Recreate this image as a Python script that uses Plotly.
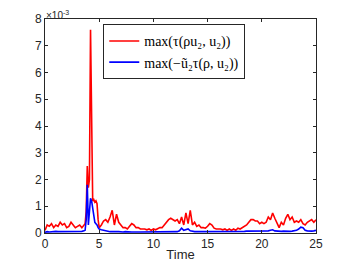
import numpy as np
import plotly.graph_objects as go

# time grid (pre-spike, spike, post-spike)
time_a = [round(0.2 * i, 1) for i in range(19)]             # 0.0 .. 3.6
time_b = [round(3.7 + 0.1 * i, 1) for i in range(14)]       # 3.7 .. 5.0
time_c = [round(5.2 + 0.2 * i, 1) for i in range(100)]      # 5.2 .. 25.0
time = time_a + time_b + time_c

# max(tau(rho u2, u2))  (units of 1e-3)
red_a = [0.1, 0.3, 0.25, 0.35, 0.2, 0.3, 0.25, 0.4, 0.3, 0.35,
         0.2, 0.25, 0.4, 0.3, 0.2, 0.25, 0.3, 0.2, 0.3]
red_b = [0.35, 0.8, 2.5, 1.7, 2.0, 7.6, 3.0, 1.2, 1.25, 1.15, 1.2, 1.1, 0.5, 0.2]
red_c = [0.3, 0.45, 0.5, 0.4, 0.6, 0.85, 0.3, 0.7, 0.4, 0.3,
         0.2, 0.2, 0.15, 0.25, 0.35, 0.3, 0.2, 0.2, 0.15, 0.15,
         0.15, 0.12, 0.15, 0.1, 0.15, 0.12, 0.15, 0.2, 0.2, 0.3,
         0.4, 0.5, 0.55, 0.5, 0.45, 0.5, 0.35, 0.6, 0.3, 0.75,
         0.35, 0.85, 0.3, 0.4, 0.25, 0.3, 0.2, 0.2, 0.18, 0.25,
         0.35, 0.3, 0.18, 0.15, 0.15, 0.15, 0.12, 0.15, 0.1, 0.15,
         0.1, 0.15, 0.1, 0.18, 0.15, 0.2, 0.25, 0.3, 0.4, 0.5,
         0.5, 0.45, 0.45, 0.35, 0.4, 0.35, 0.4, 0.6, 0.5, 0.75,
         0.55, 0.35, 0.2, 0.4, 0.3, 0.55, 0.7, 0.5, 0.6, 0.4,
         0.45, 0.4, 0.5, 0.35, 0.3, 0.4, 0.45, 0.5, 0.4, 0.5]
red = red_a + red_b + red_c

# max(-u2~ tau(rho, u2))  (units of 1e-3)
blue_a = [0.02, 0.05, 0.04, 0.05, 0.04, 0.06, 0.05, 0.05, 0.06, 0.05,
          0.04, 0.05, 0.06, 0.05, 0.05, 0.06, 0.05, 0.06, 0.08]
blue_b = [0.1, 0.5, 1.8, 0.3, 0.8, 1.3, 1.2, 0.9, 0.7, 0.4, 0.35, 0.3, 0.2, 0.15]
blue_c = [0.12, 0.1, 0.08, 0.06, 0.05, 0.05, 0.06, 0.05, 0.05, 0.04,
          0.04, 0.05, 0.04, 0.05, 0.04, 0.04, 0.05, 0.04, 0.04, 0.04,
          0.04, 0.04, 0.05, 0.04, 0.04, 0.05, 0.04, 0.05, 0.05, 0.05,
          0.05, 0.05, 0.06, 0.05, 0.06, 0.05, 0.08, 0.18, 0.1, 0.12,
          0.15, 0.08, 0.06, 0.05, 0.05, 0.05, 0.04, 0.05, 0.04, 0.05,
          0.05, 0.04, 0.04, 0.04, 0.05, 0.04, 0.04, 0.04, 0.05, 0.04,
          0.04, 0.05, 0.04, 0.05, 0.06, 0.06, 0.06, 0.07, 0.07, 0.08,
          0.08, 0.07, 0.08, 0.07, 0.07, 0.08, 0.07, 0.08, 0.1, 0.12,
          0.08, 0.07, 0.06, 0.06, 0.07, 0.06, 0.07, 0.06, 0.07, 0.08,
          0.1, 0.15, 0.22, 0.2, 0.1, 0.08, 0.07, 0.07, 0.08, 0.1]
blue = blue_a + blue_b + blue_c

x_ticks = [0, 5, 10, 15, 20, 25]
y_ticks = [0, 1, 2, 3, 4, 5, 6, 7, 8]
names = ["max(τ(ρu₂, u₂))", "max(−ũ₂τ(ρ, u₂))"]

axis_col = "#262626"
fig = go.Figure()
fig.add_trace(go.Scatter(x=time, y=red, mode="lines", name=names[0],
                         line=dict(color="#FF0000", width=1.6)))
fig.add_trace(go.Scatter(x=time, y=blue, mode="lines", name=names[1],
                         line=dict(color="#0000FF", width=1.6)))

axis_common = dict(showline=True, linecolor=axis_col, linewidth=1, mirror="ticks",
                   ticks="inside", ticklen=3, tickcolor=axis_col, showgrid=False,
                   zeroline=False, automargin=False,
                   tickfont=dict(family="Liberation Sans, Arial", size=12, color=axis_col))
fig.update_xaxes(range=[0, 25], tickvals=x_ticks, ticktext=[str(v) for v in x_ticks],
                 title=dict(text="Time", font=dict(family="Liberation Sans, Arial", size=13, color=axis_col),
                            standoff=1), **axis_common)
fig.update_yaxes(range=[0, 8], tickvals=y_ticks, ticktext=[str(v) for v in y_ticks], **axis_common)

fig.add_annotation(text="×10<sup>-3</sup>", xref="paper", yref="paper", x=0, y=1.0,
                   xanchor="left", yanchor="bottom", showarrow=False, yshift=-3,
                   borderpad=0,
                   font=dict(family="Liberation Sans, Arial", size=10, color=axis_col))

# the page body adds an 8px offset, so the figure is sized to fill the rest of the window
fig.update_layout(
    width=341, height=254,
    margin=dict(l=37, r=33, t=11, b=29, autoexpand=False),
    plot_bgcolor="white", paper_bgcolor="white",
    legend=dict(x=0.215, y=0.975, xanchor="left", yanchor="top",
                bordercolor="#262626", borderwidth=1, bgcolor="white",
                font=dict(family="Liberation Serif, DejaVu Serif", size=14, color="black"),
                itemwidth=30, tracegroupgap=0),
    showlegend=True,
)

fig.write_html("out.html")
